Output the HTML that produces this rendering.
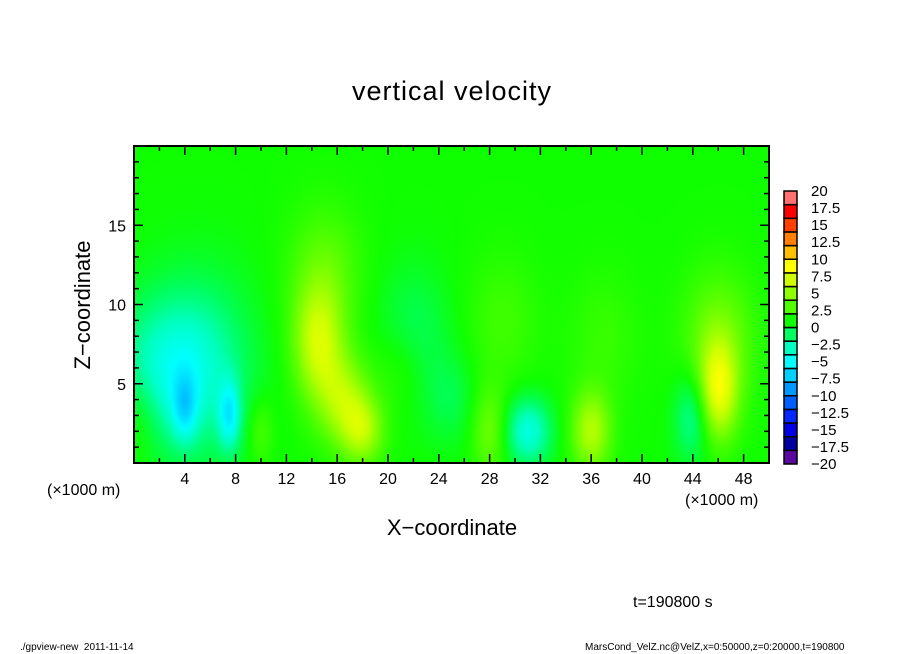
<!DOCTYPE html>
<html><head><meta charset="utf-8"><style>
body{margin:0;background:#fff;width:904px;height:654px;overflow:hidden;position:relative;font-family:"Liberation Sans",sans-serif}
.t{position:absolute;color:#000;white-space:nowrap}
</style></head><body>
<div class="t" style="left:0;width:904px;top:76px;text-align:center;font-size:27px;letter-spacing:1px">vertical velocity</div>
<div class="t" style="left:83px;top:305px;font-size:22px;transform:translate(-50%,-50%) rotate(-90deg)">Z−coordinate</div>
<div class="t" style="left:0;width:904px;top:515px;text-align:center;font-size:22px">X−coordinate</div>
<div class="t" style="left:47px;top:482px;font-size:16px">(×1000 m)</div>
<div class="t" style="left:685px;top:492px;font-size:16px">(×1000 m)</div>
<div class="t" style="left:633px;top:594px;font-size:16px">t=190800 s</div>
<div class="t" style="left:20px;top:642px;font-size:10px">./gpview-new&nbsp;&nbsp;2011-11-14</div>
<div class="t" style="left:585px;top:642px;font-size:10px">MarsCond_VelZ.nc@VelZ,x=0:50000,z=0:20000,t=190800</div>
<canvas id="field" width="200" height="100" style="position:absolute;left:134px;top:146px;width:635px;height:317px"></canvas>
<svg id="svg" width="904" height="654" style="position:absolute;left:0;top:0"></svg>
<script>
const xTicks=[4,8,12,16,20,24,28,32,36,40,44,48];
const zTicks=[5,10,15];
const cbLevels=[20,17.5,15,12.5,10,7.5,5,2.5,0,-2.5,-5,-7.5,-10,-12.5,-15,-17.5,-20];
const cbColors=["#5a08a0","#0000a0","#0000e6","#0028ff","#0060ff","#0098ff","#00d0ff","#00ffff","#00ffc0","#00ff60","#10ff00","#50ff00","#90ff00","#d0ff00","#ffff00","#ffc000","#ff8000","#ff4000","#ff0000","#ff7070"];
const blobX=[14.5,16.5,18,15,4,7.5,5,2,31,36,46,46,44,28,22,29,10,37,21,0.5,25];
const blobZ=[7.5,4,2,12,3.5,3,6,6,2,2,4.5,8,3,2,8,9,2,8,6,3,4];
const blobSX=[1.4,1.5,1.2,2,0.7,0.6,3,3,1.3,1.1,1.1,2,1,1,2,2,0.7,2,1.5,1,1.5];
const blobSZ=[2.5,2,1.5,3,1.5,1.5,4,3,1.5,1.8,2.2,3,2,2,3,3,1.5,3,2,2,2];
const blobA=[5.5,4.5,4.5,2.5,-4,-5,-3.5,-3,-5,5,6.5,3,-3.5,3,-2,1.5,2,1.2,1.5,1.5,-1.5];
const base=1;
const X0=134,X1=769,Y0=146,Y1=463,XMAX=50,ZMAX=20;
const sx=x=>X0+x/XMAX*(X1-X0), sz=z=>Y1-z/ZMAX*(Y1-Y0);
function hex(c){return [parseInt(c.slice(1,3),16),parseInt(c.slice(3,5),16),parseInt(c.slice(5,7),16)];}
function col(v){let p=(v+20)/2-0.5;p=Math.max(0,Math.min(19,p));const i=Math.floor(p),f=p-i;const a=hex(cbColors[i]),b=hex(cbColors[Math.min(19,i+1)]);return a.map((q,k)=>Math.round(q+(b[k]-q)*f));}
const W=200,H=100;
const cv=document.getElementById('field'),ctx=cv.getContext('2d');const im=ctx.createImageData(W,H);
for(let j=0;j<H;j++)for(let i=0;i<W;i++){const x=(i+0.5)/W*XMAX,z=(1-(j+0.5)/H)*ZMAX;let v=base;
for(let k=0;k<blobX.length;k++){const dx=(x-blobX[k])/blobSX[k],dz=(z-blobZ[k])/blobSZ[k];v+=blobA[k]*Math.exp(-0.5*(dx*dx+dz*dz));}
const c=col(v);const o=(j*W+i)*4;im.data[o]=c[0];im.data[o+1]=c[1];im.data[o+2]=c[2];im.data[o+3]=255;}
ctx.putImageData(im,0,0);
const svg=document.getElementById('svg'),NS="http://www.w3.org/2000/svg";
function el(t,a,txt){const e=document.createElementNS(NS,t);for(const k in a)e.setAttribute(k,a[k]);if(txt!==undefined)e.textContent=txt;svg.appendChild(e);return e;}
let e=el('rect',{x:X0,y:Y0,width:X1-X0,height:Y1-Y0,fill:'none',stroke:'#000','stroke-width':2});


for(let x=2;x<XMAX;x+=2){const maj=xTicks.includes(x);const L=maj?9:5;
el('line',{x1:sx(x),x2:sx(x),y1:Y1,y2:Y1-L,stroke:'#000','stroke-width':1.5});
el('line',{x1:sx(x),x2:sx(x),y1:Y0,y2:Y0+L,stroke:'#000','stroke-width':1.5});}
for(let z=1;z<ZMAX;z++){const maj=zTicks.includes(z);const L=maj?9:5;
el('line',{x1:X0,x2:X0+L,y1:sz(z),y2:sz(z),stroke:'#000','stroke-width':1.5});
el('line',{x1:X1,x2:X1-L,y1:sz(z),y2:sz(z),stroke:'#000','stroke-width':1.5});}
xTicks.forEach(x=>{const t=el('text',{x:sx(x),y:484,'font-size':16,'text-anchor':'middle','font-family':'Liberation Sans'},String(x));

});
zTicks.forEach(z=>{const t=el('text',{x:126,y:sz(z)+6,'font-size':16,'text-anchor':'end','font-family':'Liberation Sans'},String(z));

});
const CBX=784,CBW=13,CBT=191,CBB=464,bh=(CBB-CBT)/cbColors.length;
cbColors.forEach((c,i)=>{const r=el('rect',{x:CBX,y:CBB-(i+1)*bh,width:CBW,height:bh,fill:c,stroke:'#000','stroke-width':1.5});

});
cbLevels.forEach((v,i)=>{const y=CBT+i*(CBB-CBT)/(cbLevels.length-1);
const t=el('text',{x:811,y:y+5,'font-size':15,'font-family':'Liberation Sans'},String(v).replace('-','−'));

});
</script>
</body></html>
